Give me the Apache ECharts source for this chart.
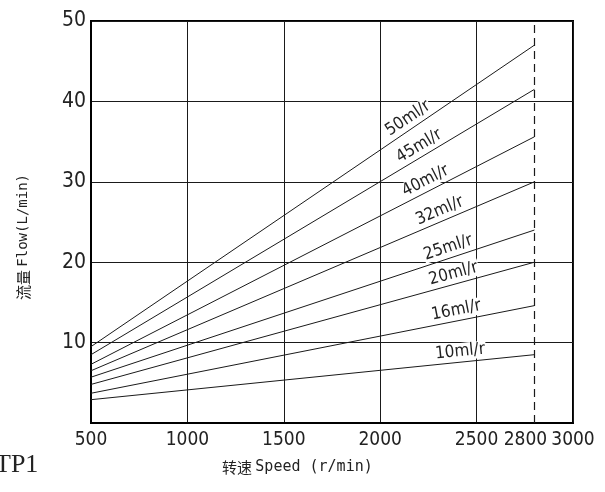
<!DOCTYPE html>
<html><head><meta charset="utf-8">
<script src="https://cdn.jsdelivr.net/npm/echarts@6/dist/echarts.min.js"></script>
<style>html,body{margin:0;padding:0;background:#fff}#c{width:605px;height:492px}</style>
</head><body><div id="c"></div>
<script>
// ---- data ----
const speeds = [500, 2800];                 // r/min, line start / end
const displacements = ['50ml/r','45ml/r','40ml/r','32ml/r','25ml/r','20ml/r','16ml/r','10ml/r'];
const flow50 = [9.5, 47.0];
const flow45 = [8.5, 41.5];
const flow40 = [7.3, 35.6];
const flow32 = [6.5, 30.0];
const flow25 = [5.7, 24.0];
const flow20 = [4.8, 20.0];
const flow16 = [3.7, 14.6];
const flow10 = [2.9, 8.5];
const xTickLabels = [500, 1000, 1500, 2000, 2500, 2800, 3000];
const yTickLabels = [10, 20, 30, 40, 50];
const ratedSpeed = 2800;

// ---- layout (where along each line its label sits, in r/min) ----
const labelAt = [2175, 2230, 2260, 2330, 2370, 2395, 2405, 2420];

const flows = [flow50, flow45, flow40, flow32, flow25, flow20, flow16, flow10];
const ink = '#1a1a1a';
const narrow = '"Liberation Sans Narrow", "DejaVu Sans Condensed", sans-serif';
const chart = echarts.init(document.getElementById('c'), null, {renderer: 'canvas'});

const series = flows.map((f, i) => ({
  type: 'line', name: displacements[i], silent: true, symbol: 'none',
  data: speeds.map((s, k) => [s, f[k]]),
  lineStyle: {color: ink, width: 1},
  markLine: i === 0 ? {
    silent: true, symbol: 'none', label: {show: false},
    lineStyle: {color: ink, width: 1.2, type: [8, 5]},
    data: [{xAxis: ratedSpeed}]
  } : undefined
}));

chart.setOption({
  animation: false,
  backgroundColor: '#fff',
  grid: {left: 91, top: 21, right: 32, bottom: 69, show: true, borderColor: '#000', borderWidth: 2, containLabel: false},
  xAxis: {
    type: 'value', min: 500, max: 3000, interval: 500,
    axisLine: {show: true, lineStyle: {color: '#000', width: 2}},
    axisTick: {show: false},
    splitLine: {show: true, lineStyle: {color: ink, width: 1}},
    axisLabel: {
      customValues: xTickLabels, margin: 8, showMaxLabel: true, showMinLabel: true, hideOverlap: false,
      fontFamily: narrow, fontSize: 19, color: '#222',
      formatter: v => v === ratedSpeed ? '{r|' + v + '}' : String(v),
      rich: {r: {fontFamily: narrow, fontSize: 19, color: '#222', padding: [0, 18, 0, 0]}}
    }
  },
  yAxis: {
    type: 'value', min: 0, max: 50, interval: 10,
    axisLine: {show: true, lineStyle: {color: '#000', width: 2}},
    axisTick: {show: false},
    splitLine: {show: true, lineStyle: {color: ink, width: 1}},
    axisLabel: {
      customValues: yTickLabels, margin: 5,
      fontFamily: narrow, fontSize: 21, color: '#222',
      formatter: v => String(v)
    }
  },
  series: series
});

// ---- labels drawn along the lines, positioned through the chart's own scales ----
const g = [];
flows.forEach((f, i) => {
  const p0 = chart.convertToPixel({gridIndex: 0}, [speeds[0], f[0]]);
  const p1 = chart.convertToPixel({gridIndex: 0}, [speeds[1], f[1]]);
  const t = (labelAt[i] - speeds[0]) / (speeds[1] - speeds[0]);
  const px = p0[0] + t * (p1[0] - p0[0]);
  const py = p0[1] + t * (p1[1] - p0[1]);
  const ang = Math.atan2(p0[1] - p1[1], p1[0] - p0[0]);
  g.push({
    type: 'text', x: px, y: py, rotation: ang, z: 100, silent: true,
    style: {
      text: displacements[i], x: 0, y: -2,
      fontFamily: narrow, fontSize: 17, fill: '#222', align: 'center', verticalAlign: 'bottom',
      backgroundColor: '#fff', padding: [0, 1, 0, 1]
    }
  });
});
g.push({
  type: 'text', x: 23, y: 237, rotation: Math.PI / 2, silent: true,
  style: {
    text: '{c|流量} {l|Flow(L/min)}', align: 'center', verticalAlign: 'middle', fill: '#222',
    rich: {
      c: {fontFamily: '"Noto Sans CJK SC", sans-serif', fontSize: 15, fill: '#222'},
      l: {fontFamily: '"DejaVu Sans Mono", monospace', fontSize: 14, fill: '#222'}
    }
  }
});
g.push({
  type: 'text', x: 222, y: 467, silent: true,
  style: {
    text: '{c|转速} {l|Speed (r/min)}', align: 'left', verticalAlign: 'middle', fill: '#222',
    rich: {
      c: {fontFamily: '"Noto Sans CJK SC", sans-serif', fontSize: 15, fill: '#222'},
      l: {fontFamily: '"DejaVu Sans Mono", monospace', fontSize: 15, fill: '#222'}
    }
  }
});
g.push({
  type: 'text', x: -5, y: 465, silent: true,
  style: {text: 'TP1', fontFamily: '"Liberation Serif", serif', fontSize: 26, fill: '#222', align: 'left', verticalAlign: 'middle'}
});
chart.setOption({graphic: g});
</script></body></html>
